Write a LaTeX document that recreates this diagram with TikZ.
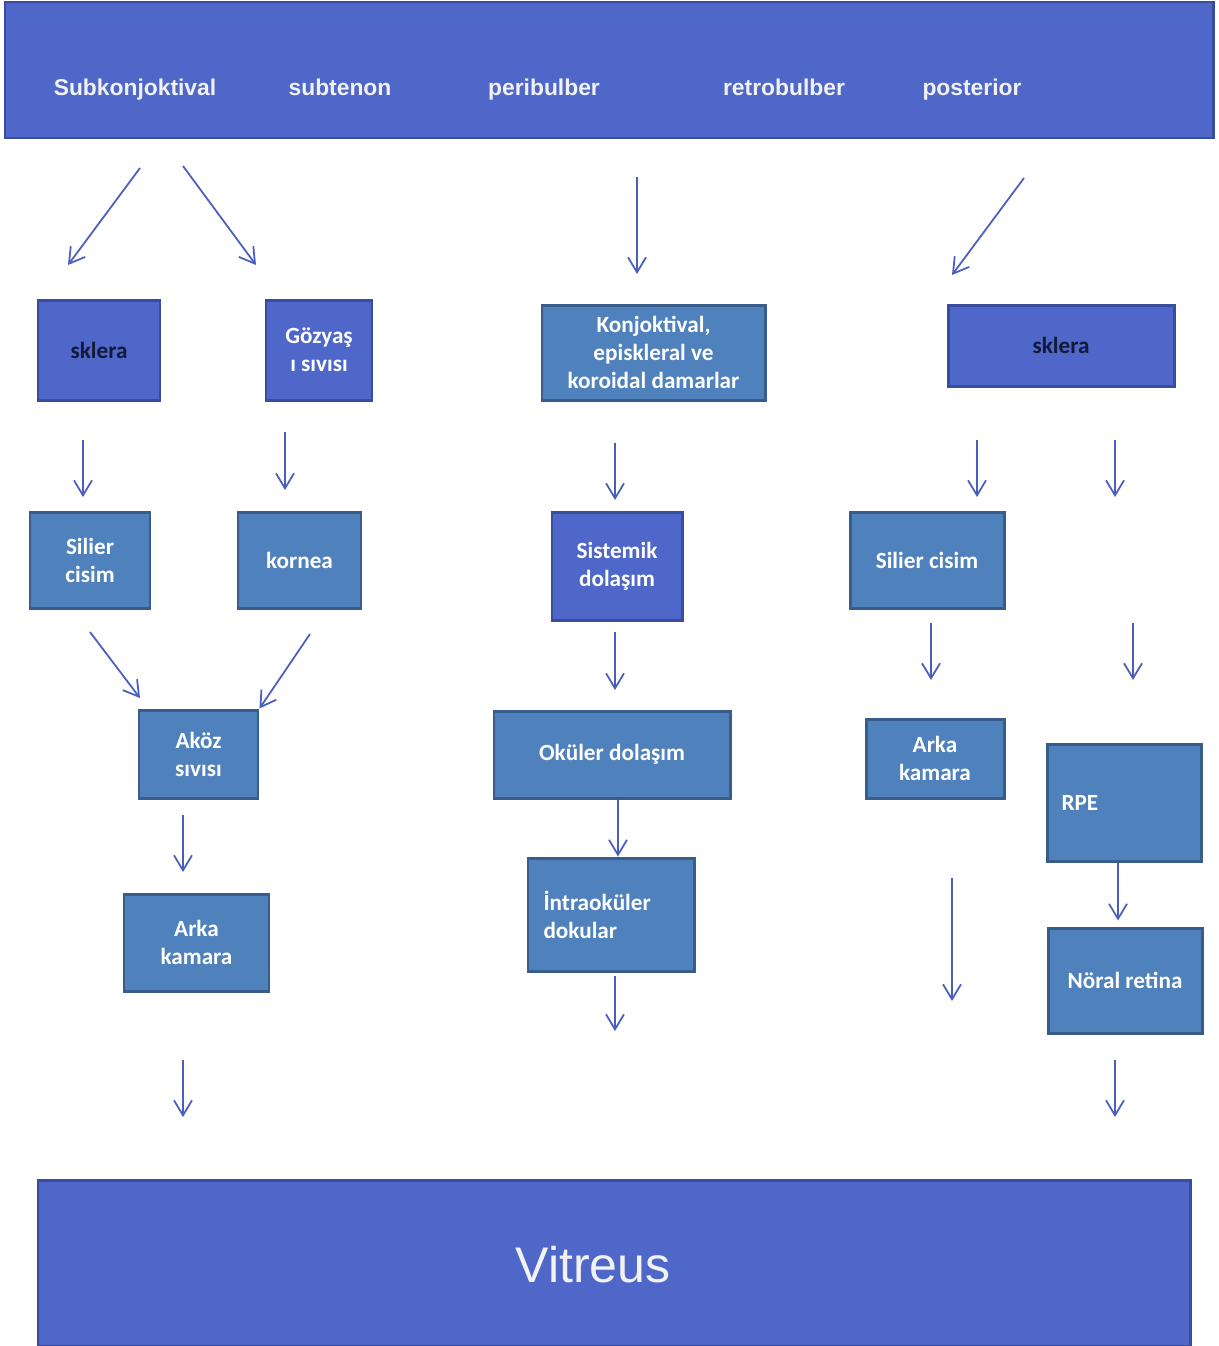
\documentclass[tikz,border=0pt]{standalone}
\usepackage{fontspec}
\setmainfont{Carlito}
\newfontfamily\arialfont{Liberation Sans}
\usetikzlibrary{positioning,arrows.meta}
\definecolor{royal}{HTML}{4F67C8}
\definecolor{royalline}{HTML}{3A4C9C}
\definecolor{steel}{HTML}{4F81BD}
\definecolor{steelline}{HTML}{385D8A}
\definecolor{arrowblue}{HTML}{4A5EC0}
\definecolor{inkdark}{HTML}{111A38}
\tikzset{
  wh/.style 2 args={minimum width=#1*0.02cm, minimum height=#2*0.02cm},
  box/.style={rectangle, fill=steel, draw=steelline, line width=1.7pt, text=white,
    font=\bfseries\fontsize{13.2}{16}\selectfont, align=center, inner sep=0pt},
  darkbox/.style={box, fill=royal, draw=royalline},
  route/.style={anchor=base, text=white!95!black, font=\arialfont\bfseries\fontsize{13}{16}\selectfont},
  flow/.style={draw=arrowblue, line width=1pt, -{Straight Barb[length=0.3cm, width=0.36cm]}}
}
\begin{document}
\begin{tikzpicture}[x=0.02cm, y=-0.02cm]
  \useasboundingbox (0,0) rectangle (1219,1346);
  % banner with the injection routes
  \node[darkbox, wh={1208}{136}] (top) at (609,70) {};
  \node[route] (subk) at (135,95) {Subkonjoktival};
  \node[route] (subt) at (340,95) {subtenon};
  \node[route] (peri) at (544,95) {peribulber};
  \node[route] (retro) at (784,95) {retrobulber};
  \node[route] (post) at (972,95) {posterior};

  % left column
  \node[darkbox, wh={122}{100}, text=inkdark] (sklL) at (99,350) {sklera};
  \node[darkbox, wh={106}{100}] (gozyas) at (319,350) {Gözyaş\\ı sıvısı};
  \node[box, wh={120}{96}] (silL) at (90,560) {Silier\\cisim};
  \node[box, wh={123}{96}] (kornea) at (299.5,560) {kornea};
  \node[box, wh={119}{88}] (akoz) at (198.5,754) {Aköz\\sıvısı};
  \node[box, wh={145}{97}] (arkaL) at (196.5,942.5) {Arka\\kamara};

  % middle column
  \node[box, wh={223}{95}] (konj) at (653.5,352.5) {Konjoktival,\\episkleral ve\\koroidal damarlar};
  \node[darkbox, wh={130}{108}] (sistem) at (617,566) {Sistemik\\dolaşım};
  \node[box, wh={236}{87}] (okuler) at (612,754.5) {Oküler dolaşım};
  \node[box, wh={166}{113}, align=left, text width=2.7cm] (intra) at (611,914.5) {İntraoküler\\dokular};

  % right column
  \node[darkbox, wh={226}{81}, text=inkdark] (sklR) at (1061,345.5) {sklera};
  \node[box, wh={154}{96}] (silR) at (927,560) {Silier cisim};
  \node[box, wh={138}{79}] (arkaR) at (935,758.5) {Arka\\kamara};
  \node[box, wh={154}{117}, align=left, text width=2.5cm] (rpe) at (1124,802.5) {RPE};
  \node[box, wh={154}{105}] (noral) at (1125,980.5) {Nöral retina};

  % target
  \node[darkbox, wh={1152}{166}] (vitreus) at (614,1263) {};
  \node[font=\arialfont\fontsize{28.5}{34}\selectfont, text=white!95!black] (vittext) at (593,1265) {Vitreus};

  % arrow ends
  \coordinate (s1a) at (140,168);  \coordinate (s1b) at (68,265);
  \coordinate (s2a) at (183,166);  \coordinate (s2b) at (256,265);
  \coordinate (l1a) at (83,440);   \coordinate (l1b) at (83,497);
  \coordinate (l2a) at (285,432);  \coordinate (l2b) at (285,490);
  \coordinate (l3a) at (90,632);   \coordinate (l3b) at (140,698);
  \coordinate (l4a) at (310,634);
  \coordinate (l5a) at (183,815);  \coordinate (l5b) at (183,872);
  \coordinate (l6a) at (183,1060); \coordinate (l6b) at (183,1117);
  \coordinate (m1a) at (637,177);  \coordinate (m1b) at (637,274);
  \coordinate (m2a) at (615,443);  \coordinate (m2b) at (615,500);
  \coordinate (m3a) at (615,632);  \coordinate (m3b) at (615,690);
  \coordinate (m5a) at (615,976);  \coordinate (m5b) at (615,1031);
  \coordinate (r1a) at (1024,178); \coordinate (r1b) at (952,275);
  \coordinate (r2a) at (977,440);  \coordinate (r2b) at (977,497);
  \coordinate (r3a) at (1115,440); \coordinate (r3b) at (1115,497);
  \coordinate (r4a) at (931,623);  \coordinate (r4b) at (931,680);
  \coordinate (r5a) at (1133,623); \coordinate (r5b) at (1133,680);
  \coordinate (r6a) at (952,878);  \coordinate (r6b) at (952,1001);
  \coordinate (r8a) at (1115,1060); \coordinate (r8b) at (1115,1117);

  % arrows
  \foreach \a/\b in {s1a/s1b, s2a/s2b, l1a/l1b, l2a/l2b, l3a/l3b, l5a/l5b, l6a/l6b,
                     m1a/m1b, m2a/m2b, m3a/m3b, m5a/m5b,
                     r1a/r1b, r2a/r2b, r3a/r3b, r4a/r4b, r5a/r5b, r6a/r6b, r8a/r8b}
    \draw[flow] (\a) -- (\b);
  \draw[flow] (l4a) -- (akoz.north east);
  \draw[flow] ([xshift=0.12cm]okuler.south) -- ([xshift=0.14cm]intra.north);
  \draw[flow] ([xshift=-0.12cm]rpe.south) -- ([xshift=-0.14cm,yshift=0.12cm]noral.north);
\end{tikzpicture}
\end{document}
